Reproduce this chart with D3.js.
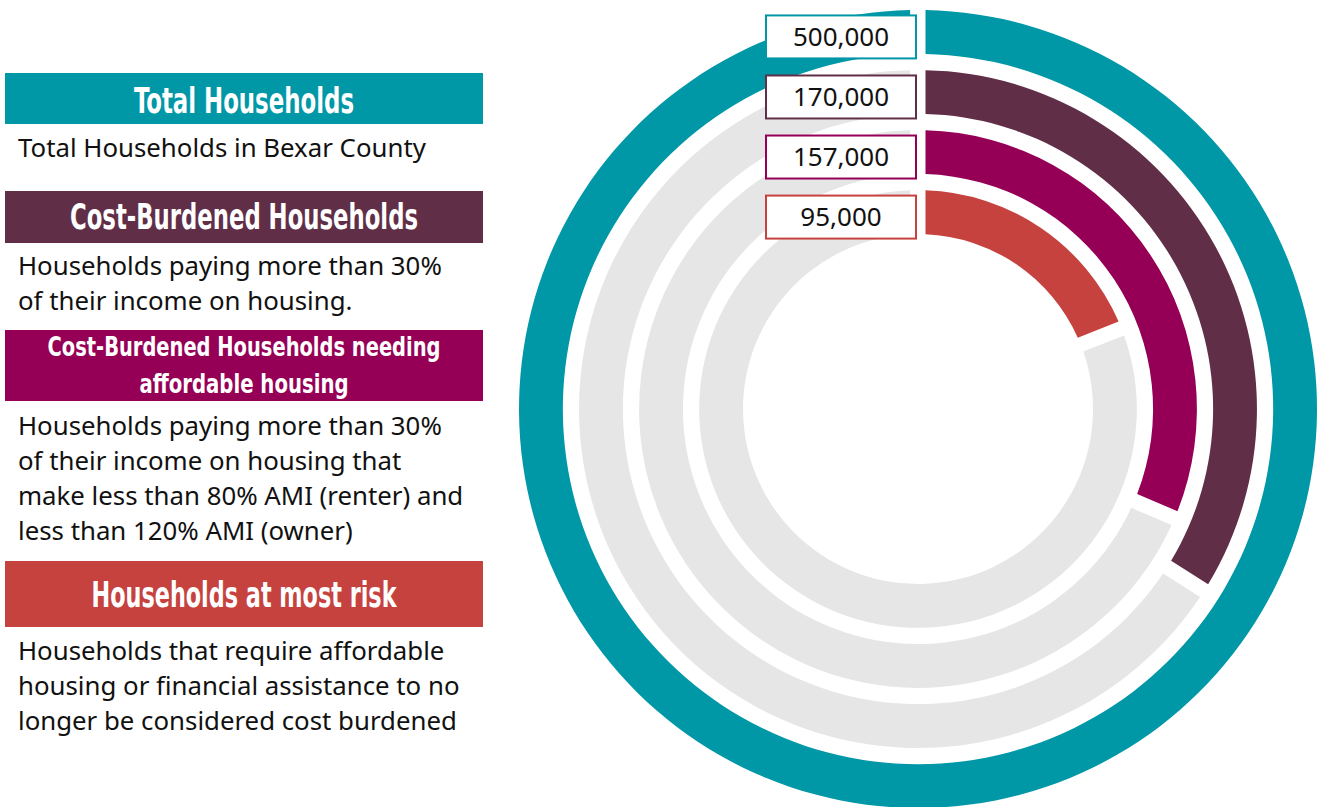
<!DOCTYPE html>
<html>
<head>
<meta charset="utf-8">
<script src="https://cdn.jsdelivr.net/npm/d3@7"></script>
<style>
	body { margin: 0; background: #fff; }
	svg { display: block; }
	.head { font-family: "DejaVu Sans", sans-serif; font-stretch: condensed; font-weight: bold; fill: #fff; }
	.desc { font-family: "Noto Sans", "Open Sans", sans-serif; fill: #111; }
	.val { font-family: "Noto Sans", "Open Sans", sans-serif; fill: #111; }
</style>
</head>
<body>
<div id="chart"></div>
<script>
// data
const categories = ['Total Households', 'Cost-Burdened Households', 'Cost-Burdened Households needing affordable housing', 'Households at most risk'];
const values = [500000, 170000, 157000, 95000];
const total = 500000;
const titleLines = [
	['Total Households'],
	['Cost-Burdened Households'],
	['Cost-Burdened Households needing', 'affordable housing'],
	['Households at most risk']
];
const descLines = [
	['Total Households in Bexar County'],
	['Households paying more than 30%', 'of their income on housing.'],
	['Households paying more than 30%', 'of their income on housing that', 'make less than 80% AMI (renter) and', 'less than 120% AMI (owner)'],
	['Households that require affordable', 'housing or financial assistance to no', 'longer be considered cost burdened']
];
const palette = ['#0097a7', '#612e48', '#950056', '#c6423f'];
const trackColor = '#e6e6e6';

// layout
const width = 1321, height = 807;
const cx = 918, cy = 409;
const panel = [
	{ y: 73, h: 51, size: 35, base: 113, fit: [220], desc: 157 },
	{ y: 191, h: 52, size: 35, base: 229, fit: [348], desc: 275 },
	{ y: 330, h: 71, size: 27, base: 356, fit: [393, 209], desc: 435, lead: 37 },
	{ y: 561, h: 66, size: 35, base: 607, fit: [305], desc: 660 }
];

var svg = d3.select('#chart').append('svg')
	.attr('width', width)
	.attr('height', height);

// left legend panel
var rows = svg.append('g').selectAll('g')
	.data(categories)
	.enter()
	.append('g');

rows.append('rect')
	.attr('x', 5)
	.attr('y', (d, i) => panel[i].y)
	.attr('width', 478)
	.attr('height', (d, i) => panel[i].h)
	.attr('fill', (d, i) => palette[i]);

rows.each(function(d, i) {
	var g = d3.select(this);
	titleLines[i].forEach((t, j) => {
		g.append('text')
			.attr('class', 'head')
			.attr('x', 244)
			.attr('y', panel[i].base + j * (panel[i].lead || 0))
			.attr('text-anchor', 'middle')
			.attr('textLength', panel[i].fit[j])
			.attr('lengthAdjust', 'spacingAndGlyphs')
			.style('font-size', panel[i].size + 'px')
			.text(t);
	});
	descLines[i].forEach((t, j) => {
		g.append('text')
			.attr('class', 'desc')
			.attr('x', 18)
			.attr('y', panel[i].desc + j * 35)
			.style('font-size', '25.8px')
			.text(t);
	});
});

// radial bars
var angle = d3.scaleLinear()
	.domain([0, total])
	.range([0, 2 * Math.PI]);

var ring = d3.scaleBand()
	.domain(categories)
	.range([399, 175])
	.paddingInner(0.27);

var arc = d3.arc()
	.innerRadius(d => ring(d.key))
	.outerRadius(d => ring(d.key) + ring.bandwidth())
	.padRadius(300)
	.padAngle(0.05);

var maxAngle = 2 * Math.PI - 0.001;
var bars = categories.map((k, i) => ({ key: k, value: values[i], color: palette[i] }));

var plot = svg.append('g')
	.attr('transform', 'translate(' + cx + ',' + cy + ')');

// grey remainder of each ring
plot.selectAll('path.track')
	.data(bars.filter(d => d.value < total))
	.enter()
	.append('path')
		.attr('class', 'track')
		.attr('d', d => arc({ key: d.key, startAngle: angle(d.value), endAngle: maxAngle }))
		.attr('fill', trackColor);

plot.selectAll('path.bar')
	.data(bars)
	.enter()
	.append('path')
		.attr('class', 'bar')
		.attr('d', d => arc({ key: d.key, startAngle: 0, endAngle: Math.min(angle(d.value), maxAngle) }))
		.attr('fill', d => d.color);

// value boxes at the top of each ring
var boxH = 43, boxW = 150;
var labels = plot.selectAll('g.lbl')
	.data(bars)
	.enter()
	.append('g')
		.attr('class', 'lbl')
		.attr('transform', d => 'translate(' + (-boxW - 2) + ',' + (-(ring(d.key) + ring.bandwidth() / 2) - boxH / 2 + 5) + ')');

labels.append('rect')
	.attr('width', boxW)
	.attr('height', boxH)
	.attr('fill', '#fff')
	.attr('stroke', d => d.color)
	.attr('stroke-width', 2);

labels.append('text')
	.attr('class', 'val')
	.attr('x', boxW / 2)
	.attr('y', boxH / 2 + 9)
	.attr('text-anchor', 'middle')
	.style('font-size', '26px')
	.text(d => d3.format(',')(d.value));
</script>
</body>
</html>
